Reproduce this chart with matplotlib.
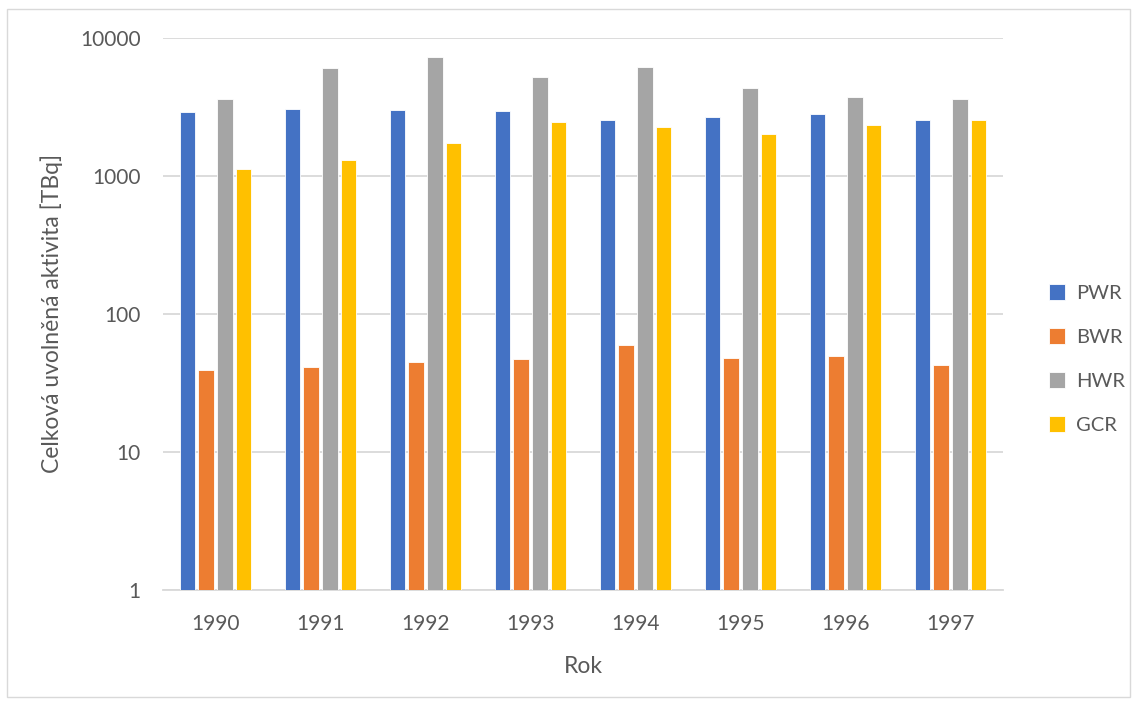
import matplotlib
matplotlib.use('Agg')
import matplotlib.pyplot as plt
from matplotlib.patches import Rectangle
from matplotlib.ticker import FixedLocator, FixedFormatter
import numpy as np

roky = ['1990', '1991', '1992', '1993', '1994', '1995', '1996', '1997']
pwr = [2900, 3040, 2975, 2925, 2530, 2650, 2785, 2530]
bwr = [39.2, 41.2, 44.8, 47.1, 59.4, 47.9, 49.2, 42.6]
hwr = [3575, 6055, 7195, 5210, 6155, 4340, 3735, 3610]
gcr = [1120, 1300, 1717, 2450, 2240, 1995, 2317, 2530]

serie = [('PWR', pwr, '#4472c4'), ('BWR', bwr, '#ed7d31'),
         ('HWR', hwr, '#a5a5a5'), ('GCR', gcr, '#ffc000')]

plt.rcParams['font.family'] = ['Lato', 'DejaVu Sans']
text_barva = '#595959'

fig = plt.figure(figsize=(11.37, 7.04), dpi=100)
ax = fig.add_axes([163 / 1137, 1 - 590 / 704, 840 / 1137, 552.3 / 704])

x = np.arange(len(roky))
sirka = 0.145
krok = 0.18
for i, (nazev, hodnoty, barva) in enumerate(serie):
    ax.bar(x + (i - 1.5) * krok, hodnoty, sirka, bottom=1e-9, color=barva,
           label=nazev, zorder=3, edgecolor='white', linewidth=0.6)

ax.set_yscale('log')
ax.set_ylim(1, 10000)
ax.set_xlim(-0.5, len(roky) - 0.5)
ticky = [1, 10, 100, 1000, 10000]
ax.yaxis.set_major_locator(FixedLocator(ticky))
ax.yaxis.set_major_formatter(FixedFormatter([str(t) for t in ticky]))
ax.yaxis.set_minor_locator(FixedLocator([]))
ax.set_xticks(x)
ax.set_xticklabels(roky)
ax.tick_params(axis='both', length=0, labelsize=15, labelcolor=text_barva)
ax.tick_params(axis='y', pad=16)
ax.tick_params(axis='x', pad=17)
ax.grid(axis='y', color='#d9d9d9', linewidth=1.3, zorder=0)
for s in ['top', 'right', 'left']:
    ax.spines[s].set_visible(False)
ax.spines['bottom'].set_color('#d9d9d9')
ax.spines['bottom'].set_linewidth(1.3)

ax.set_xlabel('Rok', fontsize=16.5, color=text_barva, labelpad=16)
ax.set_ylabel('Celková uvolněná aktivita [TBq]', fontsize=16.5, color=text_barva, labelpad=12)

leg = ax.legend(loc='center left', bbox_to_anchor=(1.033, 0.418), frameon=False,
                fontsize=14.5, labelcolor=text_barva, handlelength=0.8, handleheight=0.8,
                handletextpad=0.55, labelspacing=1.3)

# ramecek kolem celeho grafu
fig.patches.append(Rectangle((7 / 1137, 7 / 704), 1123 / 1137, 688 / 704,
                             transform=fig.transFigure, fill=False,
                             edgecolor='#d9d9d9', linewidth=1.0))

fig.savefig('out.png', dpi=100)
